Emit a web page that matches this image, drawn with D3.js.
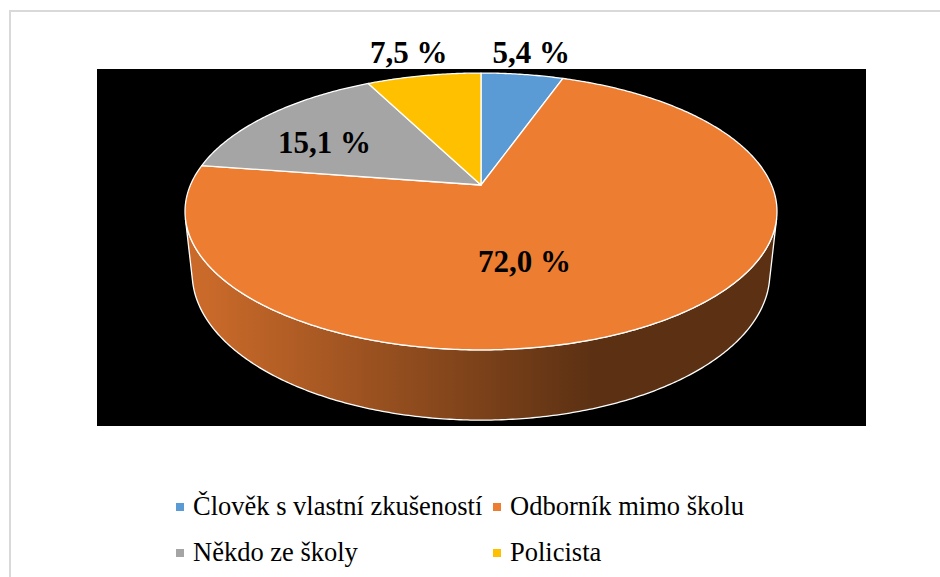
<!DOCTYPE html>
<html>
<head>
<meta charset="utf-8">
<script src="https://cdn.jsdelivr.net/npm/d3@7"></script>
<style>
  body { margin: 0; background: #fff; }
  svg { display: block; }
  .serif { font-family: 'Liberation Serif', 'Times New Roman', Times, 'DejaVu Serif', serif; }
</style>
</head>
<body>
<div id="chart"></div>
<script>
// data
const categories = ['Člověk s vlastní zkušeností', 'Odborník mimo školu', 'Někdo ze školy', 'Policista'];
const values = [5.4, 72.0, 15.1, 7.5];
const valueLabels = ['5,4 %', '72,0 %', '15,1 %', '7,5 %'];
const colors = ['#5b9bd5', '#ed7d31', '#a5a5a5', '#ffc000'];

// label placement: radius factor + nudge (px)
const labelRadius = [1.15, 0.5, 0.6, 1.15];
const labelNudge = [[4, -9], [-38, 14], [-24, 1], [-8, -10]];

const W = 940, H = 577;
const svg = d3.select('#chart').append('svg')
    .attr('width', W)
    .attr('height', H);

// chart frame
svg.append('rect')
    .attr('x', 10).attr('y', 11)
    .attr('width', W).attr('height', H)
    .attr('fill', '#fff')
    .attr('stroke', '#d9d9d9')
    .attr('stroke-width', 2);

// plot area (black)
svg.append('rect')
    .attr('x', 97).attr('y', 69)
    .attr('width', 769).attr('height', 357)
    .attr('fill', '#000');

// perspective projection of the pie disc
const cx = 481, cy = 185;
const D = 4.65;               // camera distance (radius = 1)
const phi = Math.asin(0.459); // elevation
const f = 1351;               // focal length px
const depthH = 0.242;         // pie thickness

function project(a, r, z) {
    const px = r * Math.sin(a);
    const py = -r * Math.cos(a);
    const dep = D - py * Math.cos(phi) - z * Math.sin(phi);
    return [cx + f * px / dep, cy - f * (-py * Math.sin(phi) + z * Math.cos(phi)) / dep];
}

function arcPoints(a0, a1, z) {
    const n = Math.max(2, Math.ceil((a1 - a0) / 0.01));
    const pts = [];
    for (let i = 0; i <= n; i++) {
        pts.push(project(a0 + (a1 - a0) * i / n, 1, z));
    }
    return pts;
}

const pie = d3.pie().sort(null).value(d => d);
const arcs = pie(values);
const line = d3.line();

// gradient for the side walls
const defs = svg.append('defs');
const leftX = project(-Math.PI / 2 + 0.17, 1, 0)[0];
const rightX = project(Math.PI / 2 - 0.17, 1, 0)[0];
arcs.forEach((d, i) => {
    const c = d3.color(colors[i]);
    const g = defs.append('linearGradient')
        .attr('id', 'wall' + i)
        .attr('gradientUnits', 'userSpaceOnUse')
        .attr('x1', leftX).attr('x2', rightX)
        .attr('y1', 0).attr('y2', 0);
    g.append('stop').attr('offset', 0).attr('stop-color', c.darker(0.45));
    g.append('stop').attr('offset', 0.7).attr('stop-color', c.darker(2.65));
    g.append('stop').attr('offset', 1).attr('stop-color', c.darker(2.65));
});

// visible part of the outer wall
const aVis = Math.acos(-1 / (D * Math.cos(phi)));
const walls = svg.append('g');
arcs.forEach((d, i) => {
    const a0 = Math.max(d.startAngle, aVis);
    const a1 = Math.min(d.endAngle, 2 * Math.PI - aVis);
    if (a0 >= a1) return;
    const pts = arcPoints(a0, a1, 0).concat(arcPoints(a0, a1, -depthH).reverse());
    walls.append('path')
        .attr('d', line(pts) + 'Z')
        .attr('fill', `url(#wall${i})`)
        .attr('stroke', '#fff')
        .attr('stroke-width', 1.3)
        .attr('stroke-linejoin', 'round');
});

// top faces
const tops = svg.append('g');
arcs.forEach((d, i) => {
    const pts = [project(0, 0, 0)].concat(arcPoints(d.startAngle, d.endAngle, 0));
    tops.append('path')
        .attr('d', line(pts) + 'Z')
        .attr('fill', colors[i])
        .attr('stroke', '#fff')
        .attr('stroke-width', 1.3)
        .attr('stroke-linejoin', 'round');
});

// data labels
svg.append('g').selectAll('text')
    .data(arcs)
    .join('text')
    .attr('class', 'serif')
    .attr('x', (d, i) => project((d.startAngle + d.endAngle) / 2, labelRadius[i], 0)[0] + labelNudge[i][0])
    .attr('y', (d, i) => project((d.startAngle + d.endAngle) / 2, labelRadius[i], 0)[1] + labelNudge[i][1])
    .attr('dy', '0.35em')
    .attr('text-anchor', 'middle')
    .style('font-weight', 'bold')
    .style('font-size', '31px')
    .attr('fill', '#000')
    .text((d, i) => valueLabels[i]);

// legend
const legendX = [176, 493];
const legendY = [515, 561];
const legend = svg.append('g').selectAll('g')
    .data(categories)
    .join('g')
    .attr('transform', (d, i) => `translate(${legendX[i % 2]},${legendY[Math.floor(i / 2)]})`);

legend.append('rect')
    .attr('x', 0).attr('y', -12)
    .attr('width', 8).attr('height', 8)
    .attr('fill', (d, i) => colors[i]);

legend.append('text')
    .attr('class', 'serif')
    .attr('x', 17)
    .attr('y', 0)
    .style('font-size', '26.5px')
    .attr('fill', '#000')
    .text(d => d);
</script>
</body>
</html>
